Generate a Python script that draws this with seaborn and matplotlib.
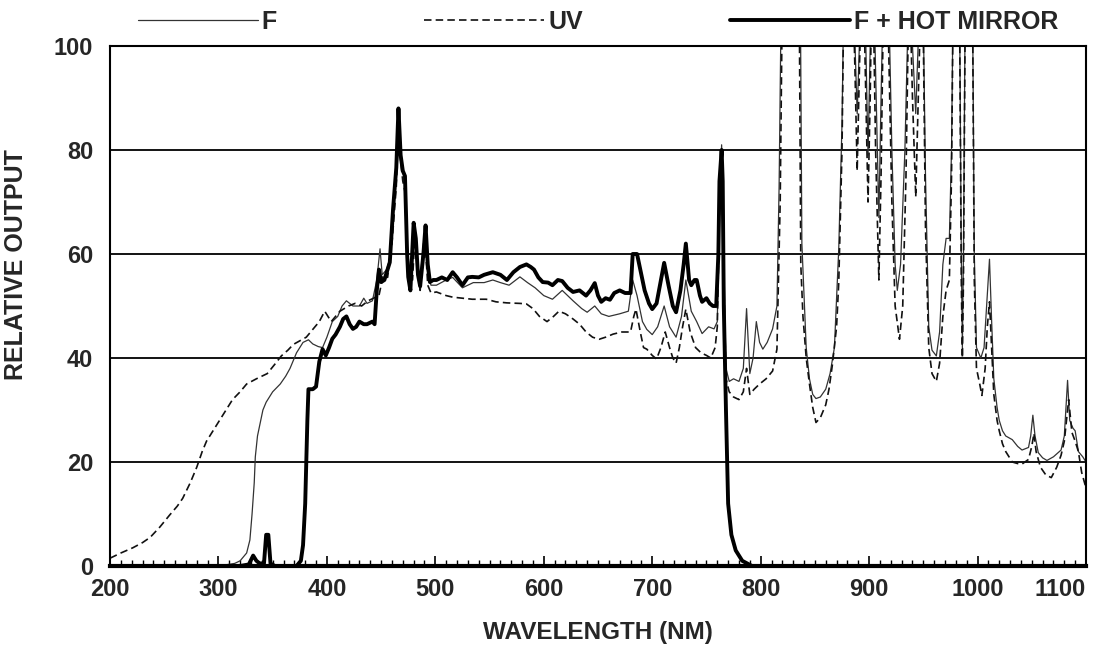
import matplotlib
matplotlib.use("Agg")
import matplotlib.pyplot as plt
from matplotlib.ticker import MultipleLocator
import seaborn as sns
import pandas as pd

# F (thin solid) - wavelength (nm) and relative output
f_nm = [200, 250, 300, 315, 320, 326, 329, 331, 333, 334, 336, 338, 341, 344, 350, 357, 362, 366, 372, 378,
        383, 387, 392, 396, 400, 405, 410, 414, 418, 421, 424, 430, 434, 437, 442, 446, 449, 451, 455, 458,
        461, 464, 466, 468, 470, 472, 474, 476, 478, 480, 482, 484, 486, 489, 491, 493, 496, 501, 510, 516,
        525, 535, 545, 553, 560, 568, 578, 585, 592, 600, 608, 617, 627, 635, 640, 647, 653, 660, 670, 678,
        682, 686, 691, 695, 700, 705, 711, 716, 722, 727, 731, 736, 741, 746, 752, 757, 760, 762, 764, 766,
        768, 771, 775, 780, 784, 787, 790, 793, 796, 799, 802, 806, 811, 815, 817, 819, 822, 836, 838, 840,
        842, 845, 848, 851, 855, 860, 864, 868, 872, 875, 877, 884, 887, 889, 891, 894, 897, 899, 901, 903,
        906, 909, 911, 914, 918, 921, 924, 926, 929, 933, 937, 940, 943, 946, 949, 952, 955, 958, 962, 965,
        968, 971, 974, 976, 978, 983, 985, 986, 987, 989, 995, 997, 999, 1003, 1006, 1009, 1011, 1013, 1015, 1018,
        1020, 1023, 1026, 1032, 1037, 1041, 1047, 1049, 1051, 1053, 1056, 1060, 1064, 1070, 1077, 1080, 1083, 1085, 1088, 1090,
        1093, 1097, 1100]
f_val = [0, 0, 0, 0.5, 1, 2.5, 5, 10, 16, 21, 25, 27, 30, 31.5, 33.5, 35, 36.5, 38, 41, 43,
         43.5, 42.7, 42.2, 42, 44, 47, 48, 50, 51, 50.5, 50, 50, 51.5, 50.5, 51, 55, 61, 56, 57, 59,
         69, 77, 86, 80, 76, 75, 62, 57, 56, 65, 62, 56, 55, 62, 63, 56, 54, 54, 55, 55.5,
         53.5, 54.5, 54.5, 55, 54.5, 54, 55.6, 54.5, 53.5, 52, 51.3, 53, 51, 49.5, 48.8, 50, 48.5, 48, 48.5, 49,
         55, 52, 47, 45.5, 44.5, 46, 50, 46, 44, 48, 55, 49, 47, 44.7, 46, 45.6, 47, 70, 81, 60,
         38, 35.5, 36, 35.5, 38, 49.5, 37, 40, 47, 43, 41.7, 43, 45.6, 50, 73, 110, 130, 130, 62, 52,
         42, 36, 33, 32.2, 32.5, 34, 37, 42, 61, 85, 115, 120, 100, 87, 100, 120, 100, 79, 100, 125,
         95, 67, 90, 120, 110, 80, 58, 53, 58, 80, 115, 100, 87, 105, 120, 75, 46, 41.5, 40.4, 45,
         58, 63, 63, 80, 120, 120, 60, 42, 60, 120, 120, 60, 42, 40, 42, 52, 59, 47, 36, 30.5,
         28, 26, 25, 24.3, 23, 22.3, 22.8, 25, 29, 25, 21.8, 20.8, 20.3, 21, 22.3, 25, 35.7, 28, 26.5, 26,
         22, 21, 20]

# UV (dashed)
uv_nm = [200, 210, 221, 230, 237, 246, 255, 262, 267, 274, 280, 285, 289, 295, 301, 307, 313, 320, 326, 335,
         345, 352, 358, 364, 369, 375, 381, 387, 393, 398, 401, 404, 408, 412, 416, 420, 426, 432, 438, 443,
         448, 452, 456, 460, 464, 466, 468, 470, 472, 474, 476, 479, 481, 484, 486, 489, 491, 493, 496, 501,
         510, 516, 525, 534, 547, 556, 566, 578, 584, 590, 596, 603, 609, 614, 620, 627, 633, 639, 645, 651,
         657, 664, 672, 680, 683, 685, 689, 692, 695, 700, 704, 708, 712, 716, 719, 722, 725, 728, 731, 735,
         740, 745, 750, 754, 758, 760, 762, 764, 766, 768, 771, 775, 780, 784, 787, 790, 794, 799, 805, 811,
         815, 818, 820, 823, 835, 837, 839, 842, 845, 848, 851, 855, 860, 863, 866, 870, 872, 875, 877, 884,
         887, 889, 891, 894, 897, 899, 901, 903, 906, 909, 911, 914, 918, 921, 924, 928, 931, 934, 937, 940,
         943, 946, 949, 952, 955, 958, 962, 965, 968, 971, 974, 976, 978, 983, 985, 986, 987, 989, 995, 997,
         999, 1002, 1004, 1007, 1009, 1011, 1013, 1015, 1018, 1020, 1023, 1026, 1029, 1032, 1037, 1041, 1047, 1050, 1052, 1054,
         1058, 1063, 1068, 1073, 1077, 1080, 1084, 1087, 1090, 1093, 1096, 1098, 1100]
uv_val = [1.5, 2.5, 3.5, 4.5, 5.5, 7.5, 9.8, 11.5, 13, 16, 19, 22, 24, 26, 28, 30, 32, 33.5, 35, 36,
          37, 38.8, 40.4, 41.5, 42.6, 43.3, 44, 45.5, 47, 49, 48, 47, 48, 49, 49.5, 50, 50.5, 50, 51, 51.5,
          52, 56, 55.5, 62, 73, 84, 78, 74, 72, 60, 55, 55, 63, 56, 53, 60, 61, 54, 52.5, 52.7,
          52, 51.7, 51.5, 51.3, 51.3, 50.8, 50.6, 50.5, 50.4, 49.5, 48, 47, 48, 49, 48.5, 47.5, 46.5, 45, 44, 43.6,
          44, 44.6, 45, 45, 48, 49.4, 45, 42, 41.7, 40.5, 39.8, 42, 45, 42, 40, 39, 42, 46, 49.4, 45,
          42, 41, 40.5, 40, 42, 46, 68, 79, 55, 36, 33.5, 32.5, 32, 33.5, 38, 33, 34, 35, 36, 37.5,
          41.7, 70, 110, 130, 130, 58, 48, 40, 35, 30.5, 27.6, 28.5, 31, 34, 38.5, 46, 54.5, 80, 115, 120,
          95, 76, 95, 120, 90, 70, 90, 120, 80, 55, 75, 120, 100, 70, 50, 43.6, 50, 75, 115, 90,
          71, 95, 120, 65, 42, 37, 35.5, 39, 48, 53, 55, 75, 120, 120, 55, 40, 55, 120, 120, 55,
          38, 35, 32.8, 38, 46, 50.8, 42, 33, 28, 26, 23.5, 22, 21, 20, 19.7, 19.6, 20.5, 23, 25.5, 22,
          19, 17.5, 17, 19, 21.3, 24, 32, 25.7, 24, 22, 18, 16.5, 15]

# F + HOT MIRROR (thick solid)
hm_nm = [200, 320, 328, 332, 335, 338, 342, 344, 346, 348, 352, 372, 376, 378, 380, 382, 383, 387, 390, 393,
         396, 399, 402, 405, 408, 412, 415, 418, 421, 424, 427, 430, 434, 437, 442, 444, 446, 448, 450, 453,
         456, 458, 461, 464, 466, 468, 470, 472, 474, 475, 477, 480, 482, 484, 486, 489, 491, 493, 495, 498,
         501, 506, 511, 516, 520, 525, 530, 534, 540, 545, 553, 560, 566, 572, 578, 584, 588, 591, 595, 599,
         604, 608, 613, 617, 622, 627, 633, 639, 643, 647, 650, 653, 657, 661, 665, 670, 675, 680, 682, 686,
         689, 693, 697, 700, 704, 708, 711, 715, 719, 722, 726, 729, 731, 734, 736, 739, 741, 744, 746, 750,
         753, 756, 759, 761, 762, 764, 765, 766, 768, 770, 773, 777, 783, 792, 1100]
hm_val = [0, 0, 0.3, 2, 1, 0.5, 0.5, 6, 6, 0.5, 0, 0, 1, 4, 12, 28, 34, 34, 34.5, 39.3,
          41.7, 40.5, 42, 43.7, 44.5, 46, 47.5, 48, 46.5, 45.6, 46, 47, 46.5, 46.5, 47, 46.5, 53, 57, 54.6, 55,
          57, 58.4, 68.6, 76.6, 88, 79, 76, 75, 60, 55.6, 53, 66, 63, 56, 53.8, 60, 65.5, 58, 54.6, 55,
          55, 55.5, 55, 56.5, 55.5, 54, 55.5, 55.6, 55.5, 56, 56.5, 56, 55, 56.5, 57.5, 58, 57.5, 57, 55.5, 54.6,
          54.5, 54, 55, 54.8, 53.5, 52.7, 53, 52, 53, 54.4, 52, 50.8, 51.5, 51.2, 52.5, 53, 52.5, 52.5, 60, 60,
          57, 53, 50.5, 49.4, 50.5, 55, 58.3, 54, 50, 48.8, 53, 58, 62, 55, 54, 55, 55, 52, 50.8, 51.5,
          50.5, 50, 50, 60, 74, 80, 74, 50, 30, 12, 6, 3, 1, 0, 0]

x_ticks = [200, 300, 400, 500, 600, 700, 800, 900, 1000, 1100]
y_ticks = [0, 20, 40, 60, 80, 100]

sns.set_style("white")
plt.rcParams['font.family'] = ['Liberation Sans', 'DejaVu Sans']
plt.rcParams['font.weight'] = 'bold'

fig, ax = plt.subplots(figsize=(11.05, 6.46), dpi=100)
fig.subplots_adjust(left=110 / 1105, right=1086 / 1105, top=1 - 46 / 646, bottom=1 - 566 / 646)

df_f = pd.DataFrame({'nm': f_nm, 'val': f_val})
df_uv = pd.DataFrame({'nm': uv_nm, 'val': uv_val})
df_hm = pd.DataFrame({'nm': hm_nm, 'val': hm_val})

# grid first so the curves sit on top
ax.set_yticks(y_ticks)
ax.yaxis.grid(True, color='black', linewidth=1.3)
ax.set_axisbelow(True)

sns.lineplot(data=df_f, x='nm', y='val', ax=ax, color='#333333', linewidth=0.9,
             estimator=None, sort=False, label='F')
line_f = ax.lines[-1]
sns.lineplot(data=df_uv, x='nm', y='val', ax=ax, color='#111111', linewidth=1.2,
             estimator=None, sort=False, label='UV')
line_uv = ax.lines[-1]
line_uv.set_dashes((4.5, 2.5))
sns.lineplot(data=df_hm, x='nm', y='val', ax=ax, color='black', linewidth=2.8,
             estimator=None, sort=False, label='F + HOT MIRROR')
line_hm = ax.lines[-1]
ax.get_legend().remove()

ax.set_xlim(200, 1100)
ax.set_ylim(0, 100)
ax.set_xticks(x_ticks)
ax.xaxis.set_minor_locator(MultipleLocator(10))
ax.tick_params(axis='x', which='major', direction='in', length=7, width=1.2, color='black',
               labelsize=17, pad=9, bottom=True)
ax.tick_params(axis='x', which='minor', direction='in', length=4, width=1.0, color='black', bottom=True)
ax.tick_params(axis='y', length=0, labelsize=17, pad=12)
ax.get_xticklabels()[-1].set_horizontalalignment('right')
for lab in ax.get_xticklabels() + ax.get_yticklabels():
    lab.set_fontweight('bold')

for side in ['top', 'left', 'right']:
    ax.spines[side].set_color('black')
    ax.spines[side].set_linewidth(1.5)
ax.spines['bottom'].set_color('black')
ax.spines['bottom'].set_linewidth(3)

ax.set_xlabel('WAVELENGTH (NM)', fontsize=17.5, fontweight='bold')
ax.xaxis.set_label_coords(0.5, -(621 - 566) / 520, transform=ax.transAxes)
ax.set_ylabel('RELATIVE OUTPUT', fontsize=18, fontweight='bold')
ax.yaxis.set_label_coords(-(110 - 28) / 976, (566 - 265) / 520, transform=ax.transAxes)

fig.legend(handles=[line_f, line_uv, line_hm], labels=['F', 'UV', 'F + HOT MIRROR'],
           loc='center', bbox_to_anchor=(598 / 1105, 1 - 22 / 646), ncol=3, frameon=False,
           handlelength=4.8, handletextpad=0.15, columnspacing=5.9,
           prop={'weight': 'bold', 'size': 18})

fig.savefig('out.png', dpi=100)
